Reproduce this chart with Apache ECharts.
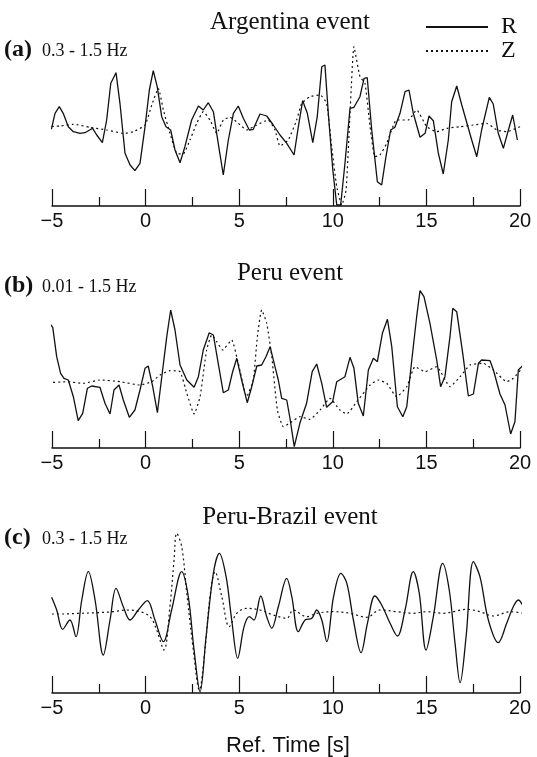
<!DOCTYPE html>
<html lang="en">
<head>
  <meta charset="UTF-8">
  <title>R / Z waveforms</title>
  <style>
    html, body { margin: 0; padding: 0; background: #fff; }
    #main { width: 537px; height: 757px; }
  </style>
</head>
<body>
  <div id="main"></div>
</body>
<script src="https://cdn.jsdelivr.net/npm/echarts@6/dist/echarts.min.js"></script>
<script>
  // [time (s), amplitude], arbitrary amplitude units
  const argentinaR = [[-5.28,-6.3],[-5.02,-1.3],[-4.84,13.7],[-4.61,20.3],[-4.40,13.7],[-4.13,0.3],[-3.86,-4.7],[-3.50,-6.3],[-3.24,-5.7],[-2.83,-1.3],[-2.61,-8],[-2.31,-15.7],[-2.08,7],[-1.86,43.7],[-1.58,54.3],[-1.37,23.7],[-1.10,-26.3],[-0.83,-38],[-0.57,-43.7],[-0.30,-36.3],[-0.03,0.3],[0.20,37],[0.41,56.3],[0.62,40.3],[0.86,10.3],[1.09,0.3],[1.34,-3],[1.57,-23],[1.84,-35.7],[2.10,-19.7],[2.46,7],[2.82,21],[3.08,17],[3.35,24.3],[3.62,15.3],[3.88,-16.3],[4.15,-48],[4.42,-13],[4.69,13.7],[4.95,21],[5.22,8.7],[5.54,-3],[5.75,-2.3],[6.11,13],[6.47,11],[6.82,2],[7.18,-8],[7.54,-16.3],[7.93,-28],[8.16,0.3],[8.39,26.3],[8.64,13.7],[8.93,-15.7],[9.17,10.3],[9.41,60.3],[9.58,62],[9.76,13.7],[10.00,-43],[10.21,-78],[10.42,-78],[10.65,-36.3],[10.92,18.7],[11.13,19.7],[11.45,30.3],[11.67,48.7],[11.84,49.3],[12.08,-3],[12.38,-54.7],[12.61,-58],[12.84,-29.7],[13.09,-3],[13.32,-0.3],[13.59,13.7],[13.86,35.3],[14.07,37],[14.30,13.7],[14.66,-10.3],[14.93,-6.3],[15.14,11],[15.37,6.3],[15.64,-26.3],[15.90,-47],[16.17,-13],[16.35,25.3],[16.62,41],[16.89,22],[17.42,-13],[17.69,-29.7],[17.95,-3],[18.36,29.7],[18.57,23],[18.84,-6.3],[19.11,-21.3],[19.38,-3],[19.61,12],[19.86,-13]];
  const argentinaZ = [[-5.28,0.3],[-4.57,1],[-3.86,2.7],[-2.97,-0.3],[-2.08,-3],[-1.19,-6.3],[-0.66,-4.7],[-0.03,2],[0.33,22],[0.68,38.7],[0.95,17],[1.30,-6.3],[1.66,-26.3],[2.01,-27],[2.37,-13],[2.73,3.7],[3.08,15.3],[3.44,7],[3.80,-6.3],[4.15,7],[4.51,9.7],[4.95,3.7],[5.40,-3],[5.94,2],[6.55,7],[6.91,-3],[7.18,-19],[7.62,-13],[8.07,7],[8.34,23.7],[8.78,30.3],[9.32,32],[9.67,23.7],[9.94,-19.7],[10.21,-59.7],[10.48,-78],[10.71,-63],[10.92,13.7],[11.13,80.3],[11.45,50.3],[11.72,43.7],[11.99,0.3],[12.25,-29.7],[12.52,-28],[12.88,-16.3],[13.41,7],[14.03,7],[14.48,17],[15.02,0.3],[15.55,-4.7],[16.09,-1.3],[16.80,0.3],[17.51,2],[18.22,3.7],[18.76,-3],[19.29,-4.7],[20.00,0.3]];

  const peruR = [[-5.20,60.3],[-4.96,54.7],[-4.75,25.3],[-4.54,8.7],[-4.36,3.7],[-4.13,2],[-3.86,-14.7],[-3.60,-38.7],[-3.36,-31.3],[-3.11,-6.3],[-2.88,-4],[-2.44,-5.3],[-2.17,-21.3],[-1.90,-32],[-1.69,-8],[-1.42,-3],[-1.19,-18],[-0.87,-35.3],[-0.57,-28],[-0.30,-8],[-0.03,13.7],[0.14,16],[0.38,-4.7],[0.63,-30.7],[0.91,12],[1.13,45.3],[1.34,72],[1.57,52],[1.84,17],[2.20,2],[2.59,-5.3],[2.82,5.3],[3.08,32],[3.40,49.3],[3.62,47],[3.88,18.7],[4.15,-10.7],[4.42,-8],[4.65,10.3],[4.87,23.7],[5.13,2],[5.43,-20.7],[5.67,-4.7],[5.94,16],[6.20,17],[6.43,25.3],[6.65,35.3],[6.91,15.3],[7.09,2],[7.27,-16.3],[7.54,-18],[7.71,-36],[7.94,-64.7],[8.24,-41.3],[8.60,-21.3],[8.90,10.3],[9.14,18],[9.41,-1.3],[9.67,-25.3],[9.99,-19.7],[10.21,0.3],[10.65,5.3],[10.92,24.7],[11.13,13.7],[11.36,-21.3],[11.63,-34],[11.90,12],[12.17,23.7],[12.38,20.3],[12.65,48.7],[12.92,62.7],[13.15,35.3],[13.45,-24.7],[13.74,-34.7],[13.95,-24.7],[14.22,22],[14.48,65.3],[14.66,91.3],[14.87,85.3],[15.19,58.7],[15.55,22],[15.76,-4.7],[15.99,5.3],[16.26,45.3],[16.41,73.7],[16.62,70.3],[16.94,28.7],[17.24,-14],[17.51,-12],[17.78,18.7],[17.95,22],[18.40,21.3],[18.58,12],[18.93,-12],[19.20,-23],[19.50,-52],[19.73,-39.7],[19.91,12],[20.18,17]];
  const peruZ = [[-5.20,-0.7],[-4.21,0.3],[-3.33,-1.3],[-2.44,2],[-1.37,0.3],[-0.30,-3],[0.33,0.3],[0.77,7],[1.30,11.3],[1.84,10.3],[2.20,-11.3],[2.59,-32],[2.91,-14.7],[3.26,32],[3.53,47],[3.80,40.3],[4.12,32],[4.60,42],[4.95,18.7],[5.40,-14.7],[5.75,2],[5.97,45.3],[6.20,72],[6.47,58.7],[6.74,25.3],[7.04,-28],[7.36,-44.7],[7.71,-41],[8.25,-34.7],[8.78,-37.3],[9.32,-28],[9.85,-16.3],[10.38,-28],[10.74,-32],[11.28,-19.7],[11.99,-3],[12.43,2],[12.88,-1.3],[13.41,-14.7],[13.95,-4.7],[14.39,15.3],[14.93,10.3],[15.55,15.3],[16.26,-4.7],[16.80,5.3],[17.33,17],[18.04,18.7],[18.58,12],[19.29,0.3],[19.64,3.7],[20.18,15.3]];

  const brazilR = [[-5.02,14.7],[-4.75,2],[-4.43,-17.3],[-4.04,-8],[-3.72,-24.7],[-3.41,12],[-3.06,40.3],[-2.70,12],[-2.26,-43],[-1.90,-8],[-1.58,23.7],[-1.19,5.3],[-0.83,-8],[-0.39,2],[0.09,11.3],[0.50,-8],[0.95,-29.7],[1.39,2],[1.93,40.3],[2.28,15.3],[2.59,-38],[2.91,-79.7],[3.23,-24.7],[3.62,38.7],[3.94,58.7],[4.30,35.3],[4.60,-8],[4.92,-46.3],[5.26,-14.7],[5.54,-4.7],[5.79,-8],[6.15,16],[6.47,-4.7],[6.74,-16.3],[7.09,5.3],[7.54,33.7],[7.81,15.3],[8.16,-19.7],[8.52,-8],[8.88,-6.3],[9.14,2],[9.41,-8],[9.68,-29.7],[10.04,15.3],[10.43,38.7],[10.75,28.7],[11.10,-8],[11.51,-40.7],[11.85,-11.3],[12.25,16],[12.61,7],[13.06,-11.3],[13.45,-24],[13.86,2],[14.30,40.3],[14.62,18.7],[14.98,-38],[15.37,-4.7],[15.87,48.7],[16.22,22],[16.53,-31.3],[16.80,-70.7],[17.12,-24.7],[17.51,50.3],[17.86,35.3],[18.31,-8],[18.84,-30.7],[19.29,-11.3],[19.64,5.3],[19.91,12],[20.18,5.3]];
  const brazilZ = [[-5.00,-2],[-4.40,-2],[-3.50,-1.3],[-2.61,-0.7],[-1.73,0.3],[-1.01,2],[-0.30,0.3],[0.24,-4.7],[0.59,-18],[0.98,-38],[1.30,5.3],[1.52,52],[1.66,78.7],[1.93,65.3],[2.20,18.7],[2.55,-38],[2.87,-78],[3.17,-38],[3.44,15.3],[3.71,40.3],[4.07,15.3],[4.47,-14.7],[4.87,-1.3],[5.40,3.7],[6.11,2],[6.82,-3],[7.54,-6.3],[7.89,2],[8.61,-4.7],[9.14,-1.3],[10.03,0.3],[10.92,-1.3],[11.81,-5.3],[12.52,2],[13.41,0.3],[14.30,-1.3],[15.02,0.3],[15.90,-1.3],[16.44,0.3],[17.15,2.7],[17.86,0.3],[18.58,-4],[19.47,0.3],[20.18,-1.3]];

  const eventTitles = ['Argentina event', 'Peru event', 'Peru-Brazil event'];
  const panelTags = ['(a)', '(b)', '(c)'];
  const bands = ['0.3 - 1.5 Hz', '0.01 - 1.5 Hz', '0.3 - 1.5 Hz'];
  const traceNames = ['R', 'Z'];
  const xName = 'Ref. Time [s]';

  const panels = [
    { r: argentinaR, z: argentinaZ, top: 40, height: 166, ymin: -79, smooth: false },
    { r: peruR, z: peruZ, top: 285, height: 163, ymin: -66, smooth: false },
    { r: brazilR, z: brazilZ, top: 530, height: 163, ymin: -81, smooth: 0.35 }
  ];
  const titleY = [22, 273, 517];
  const tagY = [50, 286, 538];

  const serif = '"Liberation Serif", "Times New Roman", serif';
  const sans = '"Liberation Sans", Arial, sans-serif';
  const ink = '#111';

  const myChart = echarts.init(document.getElementById('main'));

  const grid = [], xAxis = [], yAxis = [], series = [], graphic = [];

  panels.forEach(function (p, i) {
    grid.push({ left: 52, right: 17, top: p.top, height: p.height });
    xAxis.push({
      type: 'value', gridIndex: i, min: -5, max: 20, interval: 5,
      axisLine: { onZero: false, lineStyle: { color: ink, width: 1.5 } },
      axisTick: { inside: true, length: 17, lineStyle: { color: ink, width: 1.2 } },
      minorTick: { show: true, splitNumber: 2, length: 9, lineStyle: { color: ink, width: 1.2 } },
      splitLine: { show: false },
      axisLabel: {
        color: ink, fontSize: 20, fontFamily: sans, margin: 5,
        formatter: function (v) { return String(v).replace('-', '\u2212'); }
      }
    });
    yAxis.push({ type: 'value', gridIndex: i, min: p.ymin, max: p.ymin + p.height, show: false });

    series.push({
      name: traceNames[0], type: 'line', xAxisIndex: i, yAxisIndex: i, data: p.r,
      symbol: 'none', clip: false, smooth: p.smooth, z: 3,
      itemStyle: { color: ink },
      lineStyle: { color: ink, width: 1.3 }
    });
    series.push({
      name: traceNames[1], type: 'line', xAxisIndex: i, yAxisIndex: i, data: p.z,
      symbol: 'none', clip: false, smooth: p.smooth ? 0.35 : 0.15, z: 2,
      itemStyle: { color: ink },
      lineStyle: { color: ink, width: 1.2, type: [2, 3] }
    });

    graphic.push({
      type: 'text', x: 290, y: titleY[i],
      style: { text: eventTitles[i], font: '25px ' + serif, fill: ink, textAlign: 'center', textVerticalAlign: 'middle' }
    });
    graphic.push({
      type: 'text', x: 4, y: tagY[i],
      style: { text: panelTags[i], font: 'bold 24px ' + serif, fill: ink, textAlign: 'left', textVerticalAlign: 'middle' }
    });
    graphic.push({
      type: 'text', x: 42, y: tagY[i] + 1,
      style: { text: bands[i], font: '18px ' + serif, fill: ink, textAlign: 'left', textVerticalAlign: 'middle' }
    });
  });

  graphic.push({
    type: 'text', x: 288, y: 746,
    style: { text: xName, font: '22px ' + sans, fill: ink, textAlign: 'center', textVerticalAlign: 'middle' }
  });

  myChart.setOption({
    backgroundColor: '#fff',
    animation: false,
    legend: {
      data: traceNames, orient: 'vertical', right: 15, top: 10, itemGap: 0,
      itemWidth: 62, itemHeight: 22,
      itemStyle: { color: 'rgba(0,0,0,0)', borderWidth: 0 },
      textStyle: { fontFamily: serif, fontSize: 24, color: ink, padding: [0, 0, 0, 8] }
    },
    grid: grid,
    xAxis: xAxis,
    yAxis: yAxis,
    series: series,
    graphic: graphic
  });
</script>
</html>
